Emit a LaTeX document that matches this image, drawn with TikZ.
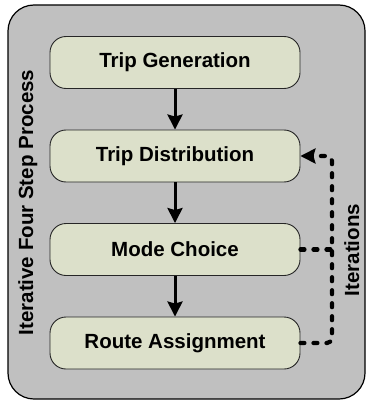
\documentclass[tikz,border=0pt]{standalone}
\usepackage{fontspec}
\setmainfont{Liberation Sans}
\usetikzlibrary{arrows.meta}
\definecolor{panelgray}{HTML}{C0C0C0}
\definecolor{stagefill}{HTML}{DCE0CA}
\begin{document}
\begin{tikzpicture}[x=1pt,y=-1pt,
  stagebox/.style={draw=black!85, line width=0.9pt, fill=stagefill,
    rounded corners=16pt, minimum width=250pt, minimum height=52pt,
    inner sep=0pt, font=\fontsize{20.5}{24}\selectfont\bfseries},
  flow/.style={line width=3pt, -{Stealth[length=15pt,width=15pt,inset=2pt]}},
  loopline/.style={line width=4.2pt, line cap=round, dash pattern=on 4pt off 9pt,
    rounded corners=5pt},
  sidelabel/.style={font=\fontsize{20.5}{24}\selectfont\bfseries, rotate=90,
    inner sep=0pt, anchor=base}]
  \useasboundingbox (0,0) rectangle (367,401);
  % outer panel
  \draw[fill=panelgray, line width=1.2pt, rounded corners=26pt]
    (8,5) rectangle (365,399);
  % the four stages
  \node[stagebox] (gen)   at (175,62.5) {Trip Generation};
  \node[stagebox] (dist)  at (175,156)  {Trip Distribution};
  \node[stagebox] (mode)  at (175,249.5){Mode Choice};
  \node[stagebox] (route) at (175,343)  {Route Assignment};
  % sequence arrows
  \draw[flow] (gen) -- (dist);
  \draw[flow] (dist) -- (mode);
  \draw[flow] (mode) -- (route);
  % feedback loop
  \coordinate (loopbot) at (332,343);
  \coordinate (looptop) at (332,156);
  \coordinate (modejoin) at (332,249.5);
  \draw[loopline] (route.east) -- (loopbot) -- (looptop) -- ([xshift=14pt]dist.east);
  \draw[line width=3pt, -{Stealth[length=15pt,width=15pt,inset=2pt]}]
    ([xshift=13pt]dist.east) -- (dist.east);
  \draw[loopline] (mode.east) -- (modejoin);
  % side labels
  \node[sidelabel] (proc) at (33,202.5) {Iterative Four Step Process};
  \node[sidelabel] (iter) at (359,250) {Iterations};
\end{tikzpicture}
\end{document}
